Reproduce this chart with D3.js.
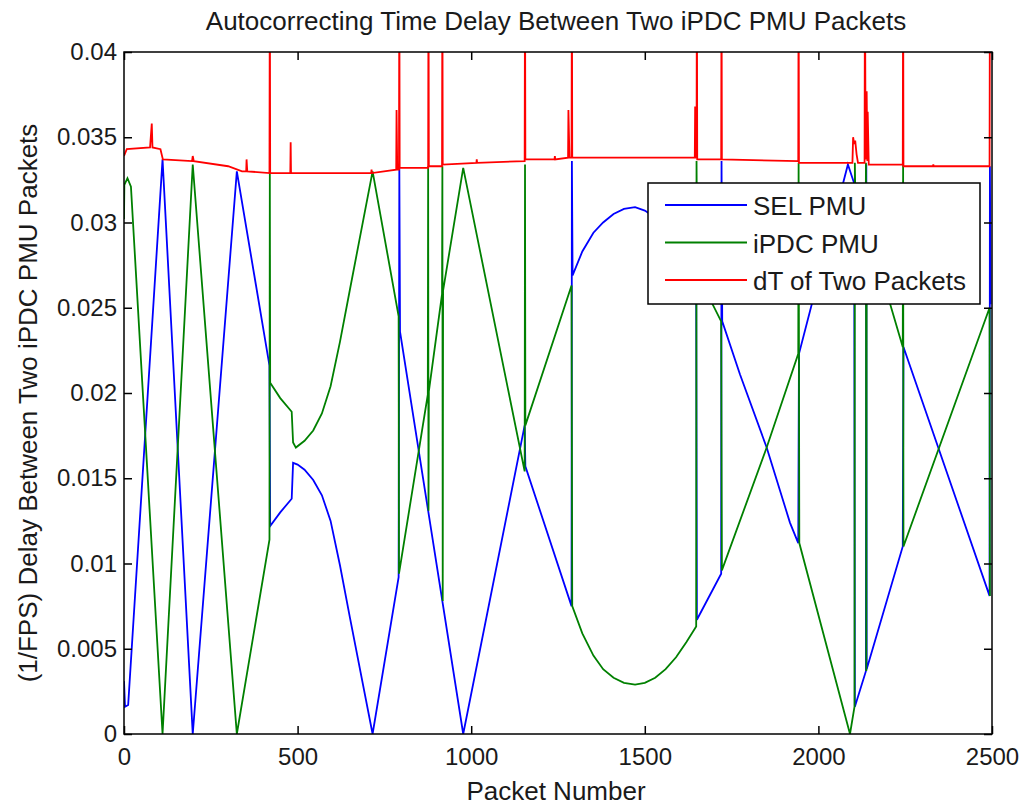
<!DOCTYPE html>
<html>
<head>
<meta charset="utf-8">
<script src="https://cdn.jsdelivr.net/npm/d3@7"></script>
<style>
    body { margin: 0; background: #fff; }
    text { font-family: "Liberation Sans", Arial, sans-serif; fill: #1a1a1a; }
</style>
</head>
<body>
<div id="chart"></div>
<script>
// packet number, delay in seconds
var selPmu = [
    [0, 0.0031], [3, 0.0016], [12, 0.0017], [111, 0.0337], [198, 0.0000], [325, 0.0330],
    [419, 0.0216], [421, 0.0122], [450, 0.0130], [483, 0.0138], [487, 0.0159], [500, 0.0158],
    [520, 0.0155], [545, 0.0149], [570, 0.0140], [595, 0.0125], [622, 0.0099], [651, 0.0068],
    [716, 0.0000], [791, 0.0092], [793, 0.0332], [795, 0.0236], [876, 0.0131], [977, 0.0000],
    [1154, 0.0181], [1156, 0.0157], [1289, 0.0075], [1290, 0.0336], [1292, 0.0269], [1320, 0.0283],
    [1352, 0.0294], [1380, 0.0300], [1410, 0.0305], [1440, 0.0308], [1472, 0.0309], [1500, 0.0307],
    [1530, 0.0303], [1560, 0.0297], [1590, 0.0289], [1620, 0.0281], [1648, 0.0272], [1650, 0.0067],
    [1720, 0.0094], [1721, 0.0336], [1723, 0.0242], [1774, 0.0211], [1851, 0.0168], [1918, 0.0124],
    [1942, 0.0112], [1944, 0.0223], [2085, 0.0334], [2103, 0.0323], [2105, 0.0016], [2137, 0.0037],
    [2138, 0.0334], [2139, 0.0038], [2243, 0.0110], [2245, 0.0227], [2493, 0.0081], [2494, 0.0333],
    [2496, 0.0252]
];

var ipdcPmu = [
    [0, 0.0302], [1, 0.0322], [10, 0.0326], [20, 0.0321], [111, 0.0000], [198, 0.0334],
    [325, 0.0000], [419, 0.0114], [420, 0.0330], [421, 0.0206], [450, 0.0197], [483, 0.0189],
    [487, 0.0171], [495, 0.0168], [520, 0.0172], [545, 0.0178], [570, 0.0188], [595, 0.0204],
    [622, 0.0230], [651, 0.0261], [716, 0.0330], [791, 0.0245], [792, 0.0094], [875, 0.0199],
    [876, 0.0333], [877, 0.0131], [878, 0.0201], [916, 0.0258], [917, 0.0333], [918, 0.0078],
    [919, 0.0260], [977, 0.0332], [1154, 0.0154], [1155, 0.0334], [1156, 0.0181], [1289, 0.0263],
    [1291, 0.0075], [1320, 0.0059], [1352, 0.0046], [1380, 0.0038], [1410, 0.0033], [1440, 0.0030],
    [1472, 0.0029], [1500, 0.0030], [1530, 0.0033], [1560, 0.0038], [1590, 0.0045], [1620, 0.0054],
    [1648, 0.0063], [1649, 0.0336], [1651, 0.0270], [1720, 0.0242], [1722, 0.0096], [1851, 0.0168],
    [1942, 0.0223], [1943, 0.0335], [1945, 0.0112], [2091, 0.0000], [2104, 0.0016], [2105, 0.0335],
    [2106, 0.0320], [2136, 0.0300], [2137, 0.0335], [2138, 0.0037], [2139, 0.0299], [2243, 0.0227],
    [2244, 0.0334], [2245, 0.0110], [2493, 0.0250], [2494, 0.0081]
];

var dtPackets = [
    [0, 0.0339], [8, 0.0343], [75, 0.0344], [80, 0.0358], [82, 0.0344], [105, 0.0343],
    [112, 0.0337], [196, 0.0336], [198, 0.0339], [201, 0.0336], [300, 0.0333], [340, 0.0330],
    [352, 0.0330], [353, 0.0337], [355, 0.0330], [419, 0.0329], [420, 0.0450], [421, 0.0329],
    [479, 0.0329], [480, 0.0347], [481, 0.0329], [712, 0.0329], [713, 0.0331], [714, 0.0329],
    [784, 0.0331], [785, 0.0366], [787, 0.0331], [792, 0.0331], [793, 0.0450], [794, 0.0332],
    [876, 0.0332], [877, 0.0450], [878, 0.0333], [916, 0.0333], [917, 0.0450], [918, 0.0334],
    [1015, 0.0335], [1016, 0.0337], [1017, 0.0335], [1154, 0.0336], [1155, 0.0450], [1156, 0.0337],
    [1240, 0.0337], [1241, 0.0339], [1242, 0.0337], [1279, 0.0338], [1280, 0.0366], [1283, 0.0338],
    [1289, 0.0338], [1290, 0.0450], [1291, 0.0338], [1644, 0.0338], [1645, 0.0368], [1647, 0.0338],
    [1649, 0.0338], [1650, 0.0450], [1651, 0.0337], [1720, 0.0337], [1721, 0.0450], [1722, 0.0337],
    [1942, 0.0336], [1943, 0.0450], [1944, 0.0335], [2098, 0.0335], [2100, 0.0350], [2103, 0.0346],
    [2106, 0.0348], [2110, 0.0340], [2114, 0.0335], [2133, 0.0335], [2134, 0.0450], [2136, 0.0337],
    [2139, 0.0377], [2141, 0.0336], [2142, 0.0365], [2145, 0.0334], [2243, 0.0334], [2244, 0.0450],
    [2245, 0.0333], [2330, 0.0333], [2331, 0.0334], [2332, 0.0333], [2493, 0.0333], [2494, 0.0450]
];

var seriesNames = ["SEL PMU", "iPDC PMU", "dT of Two Packets"];
var seriesColors = ["#0000ff", "#008000", "#ff0000"];

var xTicks = [0, 500, 1000, 1500, 2000, 2500];
var yTicks = [0, 0.005, 0.01, 0.015, 0.02, 0.025, 0.03, 0.035, 0.04];
var yTickLabels = ["0", "0.005", "0.01", "0.015", "0.02", "0.025", "0.03", "0.035", "0.04"];

function init(){

    var w = 1024;
    var h = 808;
    var left = 124, right = 992, top = 52, bottom = 734;

    var xScale = d3.scaleLinear()
                    .domain([0, 2500])
                    .range([left, right]);
    var yScale = d3.scaleLinear()
                    .domain([0, 0.04])
                    .range([bottom, top]);

    var svg = d3.select("#chart")
                .append("svg")
                .attr("width", w)
                .attr("height", h);

    svg.append("rect")
        .attr("width", w)
        .attr("height", h)
        .attr("fill", "#fff");

    svg.append("clipPath")
        .attr("id", "plotclip")
        .append("rect")
        .attr("x", left)
        .attr("y", top)
        .attr("width", right - left)
        .attr("height", bottom - top);

    var line = d3.line()
                .x(function(d){ return xScale(d[0]); })
                .y(function(d){ return yScale(d[1]); });

    // same order as the original plot call: blue, green, then red on top
    var allSeries = [selPmu, ipdcPmu, dtPackets];
    svg.append("g")
        .attr("clip-path", "url(#plotclip)")
        .selectAll("path")
        .data(allSeries)
        .enter()
        .append("path")
        .attr("d", line)
        .attr("fill", "none")
        .attr("stroke", function(d, i){ return seriesColors[i]; })
        .attr("stroke-width", 1.8);

    // axes, ticks pointing inward on all four sides
    var xAxis = svg.append("g")
        .attr("transform", "translate(0," + bottom + ")")
        .call(d3.axisBottom(xScale).tickValues(xTicks).tickSizeInner(-8).tickSizeOuter(0).tickPadding(14)
              .tickFormat(d3.format("d")));
    var xTop = svg.append("g")
        .attr("transform", "translate(0," + top + ")")
        .call(d3.axisTop(xScale).tickValues(xTicks).tickSizeInner(-8).tickSizeOuter(0).tickFormat(""));
    var yAxis = svg.append("g")
        .attr("transform", "translate(" + left + ",0)")
        .call(d3.axisLeft(yScale).tickValues(yTicks).tickSizeInner(-8).tickSizeOuter(0).tickPadding(7)
              .tickFormat(function(d, i){ return yTickLabels[i]; }));
    var yRight = svg.append("g")
        .attr("transform", "translate(" + right + ",0)")
        .call(d3.axisRight(yScale).tickValues(yTicks).tickSizeInner(-8).tickSizeOuter(0).tickFormat(""));

    [xAxis, xTop, yAxis, yRight].forEach(function(g){
        g.select(".domain").remove();
        g.selectAll("line").attr("stroke", "#000").attr("stroke-width", 1.5);
        g.selectAll("text")
            .attr("font-family", "Liberation Sans, Arial, sans-serif")
            .attr("font-size", 24)
            .attr("fill", "#1a1a1a");
    });

    svg.append("rect")
        .attr("x", left)
        .attr("y", top)
        .attr("width", right - left)
        .attr("height", bottom - top)
        .attr("fill", "none")
        .attr("stroke", "#000")
        .attr("stroke-width", 1.5);

    // titles
    svg.append("text")
        .attr("x", 556)
        .attr("y", 30)
        .attr("text-anchor", "middle")
        .attr("font-size", 26)
        .text("Autocorrecting Time Delay Between Two iPDC PMU Packets");

    svg.append("text")
        .attr("x", 556)
        .attr("y", 800)
        .attr("text-anchor", "middle")
        .attr("font-size", 26)
        .text("Packet Number");

    svg.append("text")
        .attr("transform", "translate(37," + 403 + ") rotate(-90)")
        .attr("text-anchor", "middle")
        .attr("font-size", 26)
        .text("(1/FPS) Delay Between Two iPDC PMU Packets");

    // legend
    var legend = svg.append("g");
    legend.append("rect")
        .attr("x", 648)
        .attr("y", 183)
        .attr("width", 332)
        .attr("height", 121)
        .attr("fill", "#fff")
        .attr("stroke", "#000")
        .attr("stroke-width", 1.5);

    var rows = legend.selectAll("g.row")
        .data(seriesNames)
        .enter()
        .append("g")
        .attr("class", "row")
        .attr("transform", function(d, i){ return "translate(0," + (205 + i * 37.5) + ")"; });

    rows.append("line")
        .attr("x1", 665)
        .attr("x2", 747)
        .attr("stroke", function(d, i){ return seriesColors[i]; })
        .attr("stroke-width", 2);

    rows.append("text")
        .attr("x", 753)
        .attr("y", 10)
        .attr("font-size", 26)
        .text(function(d){ return d; });
}
window.onload = init;
</script>
</body>
</html>
